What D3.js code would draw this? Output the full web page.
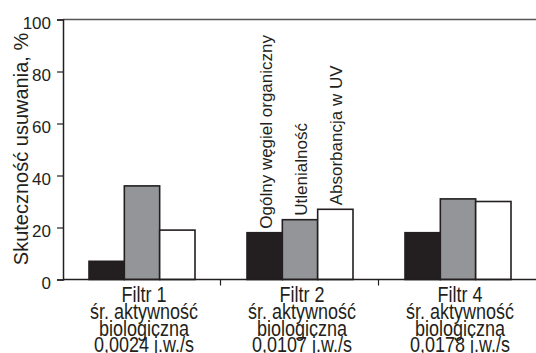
<!DOCTYPE html>
<html><head><meta charset="utf-8">
<script src="https://cdn.jsdelivr.net/npm/d3@7"></script>
<style>body{margin:0;background:#fff}svg{display:block}text{font-family:"Liberation Sans",Arial,sans-serif;fill:#231f20}</style>
</head><body><svg id="c" width="536" height="353"></svg>
<script>
const categories = ["Filtr 1", "Filtr 2", "Filtr 4"];
const categorySub = [
  ["Filtr 1", "śr. aktywność", "biologiczna", "0,0024 j.w./s"],
  ["Filtr 2", "śr. aktywność", "biologiczna", "0,0107 j.w./s"],
  ["Filtr 4", "śr. aktywność", "biologiczna", "0,0178 j.w./s"]
];
const seriesNames = ["Ogólny węgiel organiczny", "Utlenialność", "Absorbancja w UV"];
const seriesColors = ["#231f20", "#939598", "#ffffff"];
const toc = [7, 18, 18];
const utl = [36, 23, 31];
const uv = [19, 27, 30];
const yTicks = [0, 20, 40, 60, 80, 100];
const yTitle = "Skuteczność usuwania, %";

const values = [toc, utl, uv];
const svg = d3.select("#c");
const x0 = d3.scaleBand().domain(categories).range([63, 537]).padding(0);
const groupW = 106;
const x1 = d3.scaleBand().domain(seriesNames).range([0, groupW]).padding(0);
const y = d3.scaleLinear().domain([0, 100]).range([279.5, 19.5]);
const ink = "#231f20";

// frame
svg.append("line").attr("x1", 63).attr("x2", 536).attr("y1", y(100)).attr("y2", y(100)).attr("stroke", "#555").attr("stroke-width", 1.5);

// bars
categories.forEach((c, ci) => {
  const gx = x0(c) + (x0.bandwidth() - groupW) / 2;
  seriesNames.forEach((s, si) => {
    const v = values[si][ci];
    svg.append("rect")
      .attr("x", gx + x1(s)).attr("y", y(v))
      .attr("width", x1.bandwidth()).attr("height", y(0) - y(v))
      .attr("fill", seriesColors[si]).attr("stroke", ink).attr("stroke-width", 1.6);
  });
});

// series labels above Filtr 2 bars
const lc = categories[1];
seriesNames.forEach((s, si) => {
  const v = values[si][1];
  const cx = x0(lc) + (x0.bandwidth() - groupW) / 2 + x1(s) + x1.bandwidth() / 2;
  svg.append("text")
    .attr("transform", `translate(${cx + 7},${y(v) - 4}) rotate(-90)`)
    .attr("font-size", 17).text(s);
});

// y axis
const ya = svg.append("g").attr("transform", "translate(63,0)")
  .call(d3.axisLeft(y).tickValues(yTicks).tickSize(6).tickPadding(6));
ya.select(".domain").attr("stroke", ink).attr("stroke-width", 1.5);
ya.selectAll(".tick line").attr("stroke", ink).attr("stroke-width", 1.2);
ya.selectAll(".tick text").attr("font-size", 17).attr("font-family", '"Liberation Sans",Arial,sans-serif')
  .attr("fill", ink).attr("dy", "0.53em");

// x axis
svg.append("line").attr("x1", 63).attr("x2", 536).attr("y1", y(0)).attr("y2", y(0)).attr("stroke", ink).attr("stroke-width", 1.5);
categories.slice(1).forEach(c => {
  svg.append("line").attr("x1", x0(c) - 0.5).attr("x2", x0(c) - 0.5).attr("y1", y(0)).attr("y2", y(0) + 6)
    .attr("stroke", ink).attr("stroke-width", 1.2);
});
const lineY = [302, 319, 335.5, 352];
categories.forEach((c, ci) => {
  const cx = x0(c) + x0.bandwidth() / 2 + 2;
  categorySub[ci].forEach((t, li) => {
    svg.append("text")
      .attr("transform", `translate(${cx},${lineY[li]}) scale(1,1.2)`)
      .attr("text-anchor", "middle").attr("font-size", 18).text(t);
  });
});

// y title
svg.append("text")
  .attr("transform", `translate(28,149) rotate(-90)`)
  .attr("text-anchor", "middle").attr("font-size", 20).text(yTitle);
</script></body></html>
